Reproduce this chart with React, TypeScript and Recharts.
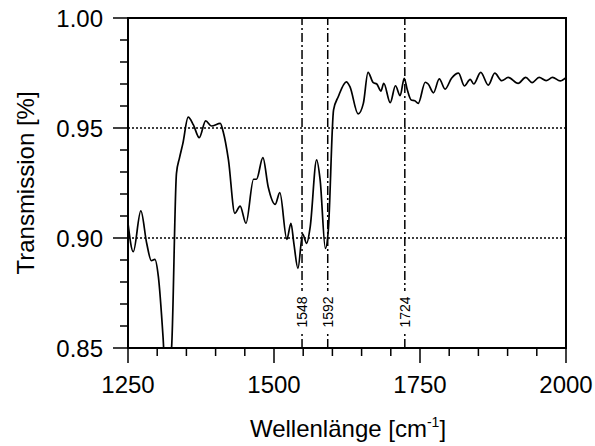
import React from "react";
import {
  LineChart,
  Line,
  XAxis,
  YAxis,
  ReferenceLine,
  ReferenceArea,
} from "recharts";

const wellenzahl = [
  1250, 1259, 1272, 1282, 1290, 1296, 1302, 1310, 1316, 1325, 1333, 1338, 1344, 1353, 1362,
  1372, 1383, 1393, 1408, 1413, 1422, 1433, 1442, 1452, 1465, 1470, 1481, 1490, 1502, 1510,
  1522, 1529, 1534, 1541, 1549, 1556, 1562, 1573, 1579, 1588, 1593, 1602, 1610, 1624, 1630,
  1644, 1653, 1661, 1670, 1676, 1683, 1688, 1699, 1708, 1716, 1723, 1728, 1735, 1741, 1747,
  1759, 1764, 1773, 1783, 1793, 1804, 1816, 1826, 1836, 1842, 1854, 1867, 1878, 1890, 1901,
  1918, 1931, 1942, 1954, 1966, 1977, 1990, 2000,
];

const transmission = [
  0.9067, 0.8938, 0.9123, 0.8976, 0.8897, 0.8903, 0.8824, 0.855, 0.828, 0.852, 0.9294, 0.9362,
  0.943, 0.9549, 0.9514, 0.9456, 0.9532, 0.9509, 0.9521, 0.9483, 0.9355, 0.9112, 0.9145, 0.9067,
  0.9267, 0.9267, 0.9365, 0.9233, 0.9153, 0.9206, 0.8994, 0.9067, 0.8976, 0.8862, 0.9018, 0.8976,
  0.9051, 0.9355, 0.9264, 0.8953, 0.9036, 0.9582, 0.9642, 0.971, 0.9688, 0.9564, 0.9612, 0.9753,
  0.9706, 0.97, 0.9668, 0.9703, 0.9615, 0.9692, 0.9647, 0.9726, 0.9676, 0.9627, 0.9624, 0.9612,
  0.9708, 0.97, 0.966, 0.9723, 0.9677, 0.9726, 0.9749, 0.9691, 0.9721, 0.97, 0.9753, 0.9695,
  0.9749, 0.9715, 0.973, 0.9703, 0.973, 0.9706, 0.973, 0.9715, 0.973, 0.9714, 0.9729,
];

const xTicks = [
  1250, 1300, 1350, 1400, 1450, 1500, 1550, 1600, 1650, 1700, 1750, 1800, 1850, 1900, 1950, 2000,
];
const xLabels = [1250, 1500, 1750, 2000];
const yTicks = [
  0.85, 0.86, 0.87, 0.88, 0.89, 0.9, 0.91, 0.92, 0.93, 0.94, 0.95, 0.96, 0.97, 0.98, 0.99, 1.0,
];
const yLabels = [0.85, 0.9, 0.95, 1.0];
const gridY = [0.9, 0.95];
const peaks = [1548, 1592, 1724];

const data = wellenzahl.map((w, i) => ({ w, t: transmission[i] }));

const FONT = "'Liberation Sans', Arial, sans-serif";

function XTick(props: any) {
  const { x, y, payload } = props;
  const major = xLabels.some((v) => Math.abs(v - payload.value) < 1e-6);
  return (
    <g>
      <line x1={x} y1={y} x2={x} y2={y + (major ? 15 : 8)} stroke="#000" strokeWidth={1.5} />
      {major && (
        <text x={x} y={y + 45} textAnchor="middle" fontSize={24} fontFamily={FONT} fill="#000">
          {payload.value}
        </text>
      )}
    </g>
  );
}

function YTick(props: any) {
  const { x, y, payload } = props;
  const major = yLabels.some((v) => Math.abs(v - payload.value) < 1e-6);
  return (
    <g>
      <line x1={x} y1={y} x2={x - (major ? 15 : 8)} y2={y} stroke="#000" strokeWidth={1.5} />
      {major && (
        <text x={x - 25} y={y + 8.6} textAnchor="end" fontSize={24} fontFamily={FONT} fill="#000">
          {payload.value.toFixed(2)}
        </text>
      )}
    </g>
  );
}

function PeakLabel(props: any) {
  const { viewBox, value } = props;
  const cx = viewBox.x + 5;
  const cy = viewBox.y + viewBox.height - 36;
  return (
    <g>
      <rect x={viewBox.x - 8} y={cy - 21} width={16} height={42} fill="#fff" />
      <text
        x={cx}
        y={cy}
        transform={`rotate(-90 ${cx} ${cy})`}
        textAnchor="middle"
        fontSize={14}
        fontFamily={FONT}
        fill="#000"
      >
        {value}
      </text>
    </g>
  );
}

export default function App() {
  return (
    <div style={{ position: "absolute", left: 0, top: 0, width: 595, height: 446, background: "#fff" }}>
      <LineChart
        width={595}
        height={446}
        data={data}
        margin={{ top: 18, right: 29, bottom: 0, left: 0 }}
      >
        <XAxis
          dataKey="w"
          type="number"
          domain={[1250, 2000]}
          ticks={xTicks}
          tick={<XTick />}
          tickLine={false}
          tickSize={0}
          tickMargin={0}
          height={98}
          interval={0}
          axisLine={{ stroke: "#000", strokeWidth: 2 }}
          allowDataOverflow
          label={(p: any) => {
            const vb = p.viewBox;
            return (
              <text
                x={vb.x + vb.width / 2 + 1}
                y={vb.y + 88.5}
                textAnchor="middle"
                fontSize={24}
                fontFamily={FONT}
                fill="#000"
              >
                Wellenlänge [cm
                <tspan dy={-10} fontSize={14}>-1</tspan>
                <tspan dy={10}>]</tspan>
              </text>
            );
          }}
        />
        <YAxis
          type="number"
          domain={[0.85, 1.0]}
          ticks={yTicks}
          tick={<YTick />}
          tickLine={false}
          tickSize={0}
          tickMargin={0}
          width={128}
          interval={0}
          axisLine={{ stroke: "#000", strokeWidth: 2 }}
          allowDataOverflow
          label={(p: any) => {
            const vb = p.viewBox;
            const cx = vb.x + 33.5;
            const cy = vb.y + vb.height / 2;
            return (
              <text
                x={cx}
                y={cy}
                transform={`rotate(-90 ${cx} ${cy})`}
                textAnchor="middle"
                fontSize={24}
                fontFamily={FONT}
                fill="#000"
              >
                Transmission [%]
              </text>
            );
          }}
        />
        {gridY.map((v) => (
          <ReferenceLine key={v} y={v} stroke="#000" strokeWidth={1.5} strokeDasharray="2 2" />
        ))}
        {peaks.map((p) => (
          <ReferenceLine
            key={p}
            x={p}
            stroke="#000"
            strokeWidth={1.5}
            strokeDasharray="9 3 2 3"
            label={<PeakLabel value={p} />}
          />
        ))}
        <Line
          type="monotone"
          dataKey="t"
          stroke="#000"
          strokeWidth={1.7}
          dot={false}
          isAnimationActive={false}
        />
        <ReferenceArea
          x1={1250}
          x2={2000}
          y1={0.85}
          y2={1.0}
          fill="none"
          fillOpacity={0}
          stroke="#000"
          strokeWidth={2}
        />
      </LineChart>
    </div>
  );
}
